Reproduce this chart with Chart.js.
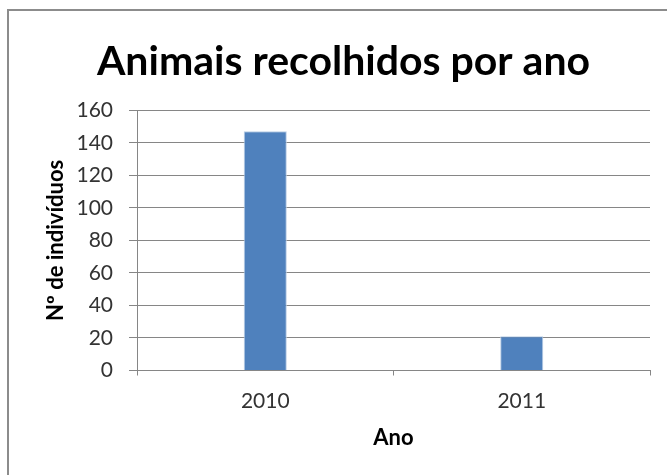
<!DOCTYPE html>
<html>
<head>
<meta charset="utf-8">
<script src="https://cdn.jsdelivr.net/npm/chart.js@4"></script>
<style>
	html, body { margin: 0; padding: 0; background: #fff; }
	#wrap { position: relative; width: 667px; height: 475px; overflow: hidden; }
	#frame {
		position: absolute; left: 7px; top: 9px; width: 700px; height: 500px;
		border: 2px solid #8c8c8c; box-sizing: border-box;
	}
	canvas { position: absolute; left: 0; top: 0; }
</style>
</head>
<body>
<div id="wrap">
	<div id="frame"></div>
	<canvas id="animaisChart" width="667" height="475"></canvas>
</div>
<script>
// Chart data
const anos = ["2010", "2011"];
const individuos = [147, 21];
const yTicks = [0, 20, 40, 60, 80, 100, 120, 140, 160];

const ctx = document.getElementById("animaisChart");
new Chart(ctx, {
	type: "bar",
	data: {
		labels: anos,
		datasets: [
			{
				label: "Nº de indivíduos",
				data: individuos,
				backgroundColor: "#4f81bd",
				borderColor: "#b9cde5",
				borderWidth: { left: 1, right: 1, top: 1, bottom: 0 },
				barPercentage: 0.168,
				categoryPercentage: 1,
			},
		],
	},
	options: {
		responsive: false,
		animation: false,
		// left padding shifts the title centre to match the frame
		layout: { padding: { left: 37, right: 17, top: 0, bottom: 0 } },
		plugins: {
			legend: { display: false },
			tooltip: { enabled: false },
			title: {
				display: true,
				text: "Animais recolhidos por ano",
				color: "#000",
				font: { family: "Lato", size: 41, weight: "bold", lineHeight: 1.2 },
				padding: { top: 37, bottom: 24 },
			},
		},
		scales: {
			x: {
				grid: {
					offset: true,
					drawOnChartArea: false,
					drawTicks: true,
					tickLength: 5,
					color: "#868686",
				},
				border: { color: "#868686", width: 1 },
				ticks: {
					color: "#333333",
					padding: 13,
					font: { family: "Lato", size: 21 },
				},
				title: {
					display: true,
					text: "Ano",
					color: "#000",
					font: { family: "Lato", size: 22, weight: "bold", lineHeight: 1.2 },
					padding: { top: 0, bottom: 24 },
				},
				afterFit: function (scale) {
					scale.height = 104.5;
				},
			},
			y: {
				min: 0,
				max: 160,
				afterBuildTicks: function (scale) {
					scale.ticks = yTicks.map(function (v) {
						return { value: v };
					});
				},
				grid: {
					color: "#868686",
					drawTicks: true,
					tickLength: 8,
				},
				border: { color: "#868686", width: 1 },
				ticks: {
					color: "#333333",
					padding: 16,
					font: { family: "Lato", size: 21 },
				},
				title: {
					display: true,
					text: "Nº de indivíduos",
					color: "#000",
					font: { family: "Lato", size: 22, weight: "bold", lineHeight: 1.2 },
					padding: { top: 6, bottom: 0 },
				},
				afterFit: function (scale) {
					scale.width = 100;
				},
			},
		},
	},
});
</script>
</body>
</html>
